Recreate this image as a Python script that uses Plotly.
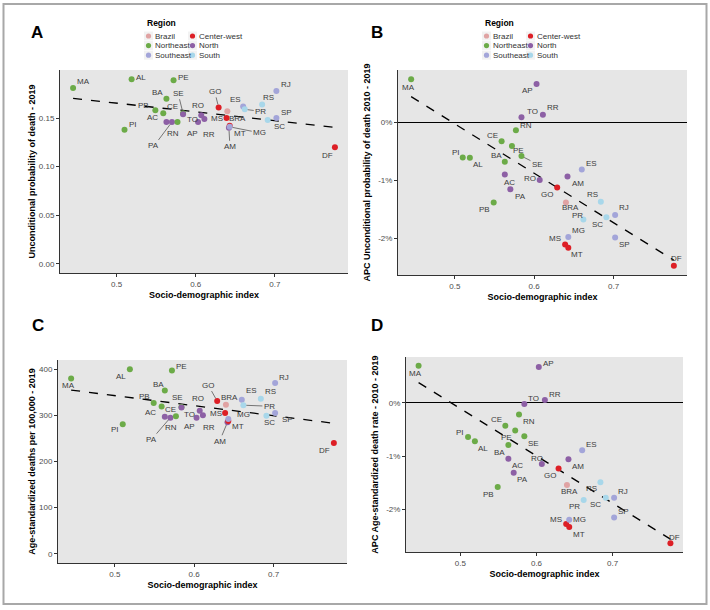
import numpy as np
import plotly.graph_objects as go

# ---------------- data ----------------
states = ["MA", "PI", "AL", "PB", "CE", "BA", "AC", "PE", "PA", "RN", "SE", "TO", "AP", "RO",
          "RR", "GO", "MS", "BRA", "AM", "MT", "MG", "ES", "PR", "RS", "SC", "RJ", "SP", "DF"]
region = ["Northeast", "Northeast", "Northeast", "Northeast", "Northeast", "Northeast", "North",
          "Northeast", "North", "Northeast", "Northeast", "North", "North", "North", "North",
          "Center-west", "Center-west", "Brazil", "North", "Center-west", "Southeast", "Southeast",
          "South", "South", "South", "Southeast", "Southeast", "Center-west"]
sdi = [0.445, 0.510, 0.519, 0.549, 0.559, 0.563, 0.563, 0.572, 0.570, 0.577, 0.584, 0.584, 0.603, 0.607,
       0.611, 0.629, 0.639, 0.640, 0.642, 0.643, 0.643, 0.660, 0.662, 0.684, 0.691, 0.702, 0.702, 0.776]
prob_2019 = [0.181, 0.138, 0.190, 0.158, 0.155, 0.170, 0.146, 0.189, 0.146, 0.146, 0.155, 0.154, 0.146, 0.153,
             0.149, 0.161, 0.150, 0.157, 0.140, 0.142, 0.141, 0.162, 0.159, 0.164, 0.148, 0.178, 0.150, 0.120]
apc_prob = [0.74, -0.61, -0.615, -1.385, -0.33, -0.68, -0.90, -0.41, -1.155, -0.14, -0.585, 0.085, 0.66, -0.995,
            0.13, -1.125, -2.11, -1.385, -0.935, -2.165, -1.98, -0.815, -1.68, -1.37, -1.64, -1.60, -1.99, -2.475]
rate_2019 = [380, 281, 400, 327, 319, 354, 297, 397, 295, 298, 318, 317, 295, 310,
             300, 331, 305, 323, 285, 288, 292, 334, 322, 336, 299, 370, 305, 240]
apc_rate = [0.69, -0.64, -0.72, -1.58, -0.43, -0.79, -1.05, -0.52, -1.31, -0.22, -0.63, -0.025, 0.67, -1.15,
            0.05, -1.23, -2.27, -1.54, -1.06, -2.33, -2.19, -0.89, -1.82, -1.49, -1.78, -1.78, -2.15, -2.63]

legend_order = ["Brazil", "Center-west", "Northeast", "North", "Southeast", "South"]
x_ticks = [0.5, 0.6, 0.7]
x_ticktext = ["0.5", "0.6", "0.7"]
prob_ticks = [0.00, 0.05, 0.10, 0.15]
prob_ticktext = ["0.00", "0.05", "0.10", "0.15"]
rate_ticks = [0, 100, 200, 300, 400]
rate_ticktext = ["0", "100", "200", "300", "400"]
pct_ticks = [-2, -1, 0]
pct_ticktext = ["-2%", "-1%", "0%"]

# ---------------- styles ----------------
W, H = 710, 610
FONT = "Liberation Sans, Arial, sans-serif"
colors = {"Brazil": "#E0A3A3", "Center-west": "#DD1F26", "Northeast": "#6CAB48",
          "North": "#8D60A5", "Southeast": "#A3A5D9", "South": "#A8D7EA"}
LABEL_COLOR = "#3c3c3c"
TICK_COLOR = "#4d4d4d"
AXIS_COLOR = "#333333"
PANEL_BG = "#E6E6E6"

# label offsets (dx, dy in pixels, screen direction) and whether a segment is drawn
offsets_A = {"MA": (10, -6, 0), "AL": (9, -2, 0), "PE": (10, -3, 0), "BA": (-9, -6, 0), "SE": (-5, -20, 1),
             "PB": (-12, -5, 0), "CE": (9, -7, 0), "AC": (-14, -4, 0), "PA": (-18, 24, 1), "RN": (-5, 12, 0),
             "PI": (8, -5, 0), "TO": (9, 5, 0), "AP": (-6, 12, 0), "RO": (-3, -10, 0), "RR": (5, 15, 0),
             "GO": (-4, -16, 1), "MS": (-10, 0, 0), "BRA": (10, 7, 0), "AM": (1, 19, 1), "MT": (10, 8, 0),
             "MG": (30, 6, 1), "ES": (-8, -7, 0), "PR": (16, 2, 1), "RS": (6, -7, 0), "RJ": (10, -6, 0),
             "SP": (10, -6, 0), "SC": (12, 6, 0), "DF": (-7, 8, 0)}
offsets_B = {"MA": (-3, 8, 0), "AP": (-9, 7, 0), "TO": (11, -6, 0), "RR": (10, -7, 0), "RN": (10, -5, 0),
             "CE": (-9, -6, 0), "PE": (7, 5, 0), "SE": (16, 8, 1), "PI": (-7, -5, 0), "AL": (8, 7, 0),
             "BA": (-8, -6, 0), "AC": (5, 8, 0), "RO": (-10, -1, 0), "PA": (10, 7, 0), "PB": (-9, 7, 0),
             "ES": (10, -6, 0), "AM": (10, 7, 0), "GO": (-10, 7, 0), "RS": (-8, -7, 0), "BRA": (5, 5, 0),
             "RJ": (9, -7, 0), "SC": (-9, 7, 0), "PR": (-6, -4, 0), "MG": (10, -6, 0), "SP": (9, 7, 0),
             "MS": (-10, -6, 0), "MT": (9, 7, 0), "DF": (3, -7, 0)}
offsets_C = {"MA": (-3, 7, 0), "AL": (-9, 7, 0), "PE": (10, -4, 0), "BA": (-6, -6, 0), "PB": (-9, -6, 0),
             "CE": (9, 3, 0), "SE": (-4, -10, 0), "AC": (-14, -4, 0), "PA": (-19, 22, 1), "RN": (-5, 11, 0),
             "PI": (-8, 5, 0), "TO": (8, 7, 0), "AP": (-7, 9, 0), "RO": (-2, -12, 0), "RR": (6, 12, 0),
             "GO": (-9, -16, 1), "BRA": (4, -7, 0), "MS": (-9, 0, 0), "MG": (15, -5, 0), "MT": (10, 6, 0),
             "AM": (-8, 19, 1), "ES": (10, -9, 0), "RS": (10, -7, 0), "PR": (26, 1, 1), "SC": (3, 7, 0),
             "SP": (12, 6, 0), "RJ": (9, -6, 0), "DF": (-9, 7, 0)}
offsets_D = {"MA": (-3, 8, 0), "AP": (10, -3, 0), "TO": (9, -6, 0), "RR": (10, -6, 0), "RN": (10, 7, 0),
             "CE": (-9, -6, 0), "PE": (-9, 7, 0), "SE": (9, 7, 0), "PI": (-8, -4, 0), "AL": (8, 7, 0),
             "BA": (-9, 8, 0), "AC": (9, 7, 0), "RO": (-5, -6, 0), "PA": (9, 7, 0), "PB": (-9, 7, 0),
             "GO": (-9, 7, 0), "ES": (9, -6, 0), "AM": (10, 7, 0), "RS": (-9, 6, 0), "BRA": (3, 7, 0),
             "RJ": (9, -6, 0), "SC": (-10, 7, 0), "PR": (-9, 7, 0), "SP": (9, -6, 0), "MG": (10, 0, 0),
             "MS": (-10, -4, 0), "MT": (10, 7, 0), "DF": (4, -6, 0)}

# panel plot-area rectangles in pixels: (left, top, right, bottom)
rects = {"A": (60, 70, 348, 273), "B": (398, 70, 687, 275),
         "C": (58, 360, 347, 563), "D": (406, 357, 683, 552)}
ytitle_standoff = {"A": 1, "B": 6, "C": 1, "D": 6}


def px_dom(rect):
    l, t, r, b = rect
    return [l / W, r / W], [1 - b / H, 1 - t / H]


def expand(lo, hi, f=0.05):
    s = hi - lo
    return [lo - f * s, hi + f * s]


panels = [
    ("A", "x", "y", prob_2019, offsets_A, "Unconditional probability of death - 2019",
     prob_ticks, prob_ticktext, expand(0, max(prob_2019)), False),
    ("B", "x2", "y2", apc_prob, offsets_B, "APC Unconditional probability of death 2010 - 2019",
     pct_ticks, pct_ticktext, expand(min(apc_prob), max(apc_prob)), True),
    ("C", "x3", "y3", rate_2019, offsets_C, "Age-standardized deaths per 100,000 - 2019",
     rate_ticks, rate_ticktext, expand(0, max(rate_2019)), False),
    ("D", "x4", "y4", apc_rate, offsets_D, "APC Age-standardized death rate - 2010 - 2019",
     pct_ticks, pct_ticktext, expand(min(apc_rate), max(apc_rate)), True),
]

fig = go.Figure()
annotations = []
shapes = []
layout_axes = {}
xr = expand(min(sdi), max(sdi))

for key, xa, ya, vals, offs, ytitle, yt, ytt, yr, zero in panels:
    # regression line
    slope, icpt = np.polyfit(sdi, vals, 1)
    xs = [min(sdi), max(sdi)]
    fig.add_trace(go.Scatter(x=xs, y=[slope * v + icpt for v in xs], mode="lines",
                             line=dict(color="black", width=1.3, dash="dash"),
                             xaxis=xa, yaxis=ya, showlegend=False, hoverinfo="skip"))
    # points
    fig.add_trace(go.Scatter(x=sdi, y=vals, mode="markers", text=states,
                             marker=dict(size=6, color=[colors[r] for r in region]),
                             xaxis=xa, yaxis=ya, showlegend=False))
    # labels
    for s, xv, yv in zip(states, sdi, vals):
        dx, dy, seg = offs[s]
        a = dict(x=xv, y=yv, xref=xa, yref=ya, text=s,
                 font=dict(family=FONT, size=8, color=LABEL_COLOR))
        if seg:
            a.update(showarrow=True, ax=dx, ay=dy, arrowhead=0, arrowwidth=0.7,
                     arrowcolor="#444444", standoff=3, startstandoff=0)
        else:
            a.update(showarrow=False, xshift=dx, yshift=-dy)
        annotations.append(a)

    xd, yd = px_dom(rects[key])
    axn = xa.replace("x", "xaxis")
    ayn = ya.replace("y", "yaxis")
    common = dict(showgrid=False, showline=True, linecolor=AXIS_COLOR, linewidth=1,
                  ticks="outside", ticklen=3, tickcolor=AXIS_COLOR, tickwidth=1,
                  tickfont=dict(family=FONT, size=8, color=TICK_COLOR), automargin=False)
    layout_axes[axn] = dict(domain=xd, range=xr, tickvals=x_ticks, ticktext=x_ticktext,
                            anchor=ya, zeroline=False,
                            title=dict(text="Socio-demographic index", standoff=4,
                                       font=dict(family=FONT, size=9, color="black", weight="bold")),
                            **common)
    layout_axes[ayn] = dict(domain=yd, range=yr, tickvals=yt, ticktext=ytt, anchor=xa,
                            zeroline=zero, zerolinecolor="black", zerolinewidth=1.2,
                            title=dict(text=ytitle, standoff=ytitle_standoff[key],
                                       font=dict(family=FONT, size=9, color="black", weight="bold")),
                            **common)
    # panel background
    l, t, r, b = rects[key]
    shapes.append(dict(type="rect", xref="paper", yref="paper", x0=l / W, x1=r / W,
                       y0=1 - b / H, y1=1 - t / H, fillcolor=PANEL_BG, line=dict(width=0),
                       layer="below"))

# panel letters
for letter, (px, py) in {"A": (37, 32), "B": (377, 32), "C": (38, 325), "D": (377, 325)}.items():
    annotations.append(dict(x=px / W, y=1 - py / H, xref="paper", yref="paper", text=letter,
                            showarrow=False, xanchor="center", yanchor="middle",
                            font=dict(family=FONT, size=17, color="black", weight="bold")))

# manual legends (two, above panels A and B)
for ox in (0, 338):
    annotations.append(dict(x=(145 + ox) / W, y=1 - 23 / H, xref="paper", yref="paper", text="Region",
                            showarrow=False, xanchor="left", yanchor="middle",
                            font=dict(family=FONT, size=8.5, color="black", weight="bold")))
    for i, reg in enumerate(legend_order):
        col, row = i % 2, i // 2
        cx = 148.5 + ox + col * 44
        cy = 36 + row * 9.6
        shapes.append(dict(type="rect", xref="paper", yref="paper",
                           x0=(cx - 4.5) / W, x1=(cx + 4.5) / W, y0=1 - (cy + 4.5) / H, y1=1 - (cy - 4.5) / H,
                           fillcolor="#F2F2F2", line=dict(width=0)))
        shapes.append(dict(type="circle", xref="paper", yref="paper",
                           x0=(cx - 2.6) / W, x1=(cx + 2.6) / W, y0=1 - (cy + 2.6) / H, y1=1 - (cy - 2.6) / H,
                           fillcolor=colors[reg], line=dict(width=0)))
        annotations.append(dict(x=(cx + 4.5) / W, y=1 - cy / H, xref="paper", yref="paper", text=reg,
                                showarrow=False, xanchor="left", yanchor="middle",
                                font=dict(family=FONT, size=8, color="#333333")))

# outer frame
shapes.append(dict(type="rect", xref="paper", yref="paper", x0=3.5 / W, x1=706.5 / W,
                   y0=1 - 604 / H, y1=1 - 4 / H, line=dict(color="#A8A8A8", width=2)))

fig.update_layout(width=W, height=H, margin=dict(l=0, r=0, t=0, b=0),
                  paper_bgcolor="white", plot_bgcolor="rgba(0,0,0,0)",
                  font=dict(family=FONT), annotations=annotations, shapes=shapes,
                  showlegend=False, **layout_axes)

fig.write_html("out.html", config={"displayModeBar": False},
               post_script="document.body.style.margin='0';document.body.style.overflow='hidden';")
